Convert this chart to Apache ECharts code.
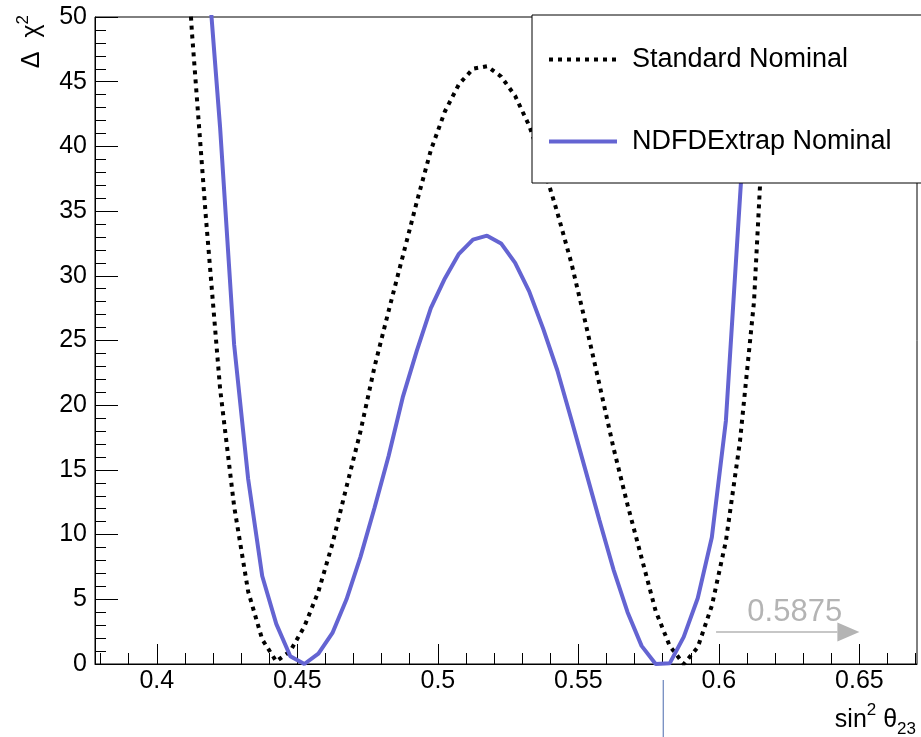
<!DOCTYPE html>
<html><head><meta charset="utf-8">
<script src="https://cdn.jsdelivr.net/npm/echarts@6/dist/echarts.min.js"></script>
<style>html,body{margin:0;padding:0;background:#fff}#c{width:921px;height:737px}</style>
</head><body><div id="c"></div>
<script>
// ---- data (scan points) ----
const seriesNames = ['Standard Nominal', 'NDFDExtrap Nominal'];
const stdX = [0.4075,0.4125,0.4175,0.4225,0.4275,0.4325,0.4375,0.4425,0.4475,0.4525,0.4575,0.4625,0.4675,0.4725,0.4775,0.4825,0.4875,0.4925,0.4975,0.5025,0.5075,0.5125,0.5175,0.5225,0.5275,0.5325,0.5375,0.5425,0.5475,0.5525,0.5575,0.5625,0.5675,0.5725,0.5775,0.5825,0.5875,0.5925,0.5975,0.6025,0.6075,0.6125,0.6175,0.6225];
const stdY = [66,48.8,34.4,21.3,12.2,5.6,1.9,0.2,1.0,2.9,5.6,9.3,13.7,18.0,23.0,27.3,31.5,35.7,39.7,42.7,44.8,46.0,46.2,45.4,43.9,41.6,38.5,34.9,31.0,26.4,21.6,16.7,12.3,8.2,4.1,1.4,0.0,1.3,4.5,9.5,17.2,28.0,49,72];
const ndX = [0.4175,0.4225,0.4275,0.4325,0.4375,0.4425,0.4475,0.4525,0.4575,0.4625,0.4675,0.4725,0.4775,0.4825,0.4875,0.4925,0.4975,0.5025,0.5075,0.5125,0.5175,0.5225,0.5275,0.5325,0.5375,0.5425,0.5475,0.5525,0.5575,0.5625,0.5675,0.5725,0.5775,0.5825,0.5875,0.5925,0.5975,0.6025,0.6075,0.6125];
const ndY = [55.5,41.5,24.7,14.3,6.8,3.1,0.6,0.0,0.8,2.4,5.0,8.3,12.1,16.1,20.6,24.2,27.5,29.8,31.7,32.8,33.1,32.5,31.0,28.8,25.9,22.7,18.9,15.0,11.1,7.3,4.0,1.4,0.0,0.05,2.1,5.1,9.8,18.8,36.0,53];
const xMajorTicks = [0.4,0.45,0.5,0.55,0.6,0.65];
const xMinorTicks = [0.38,0.39,0.41,0.42,0.43,0.44,0.46,0.47,0.48,0.49,0.51,0.52,0.53,0.54,0.56,0.57,0.58,0.59,0.61,0.62,0.63,0.64,0.66,0.67];
const annotText = '0.5875';
const annotArrow = {x0: 0.599, x1: 0.65, y: 2.47, textX: 0.627, textY: 4.0};
const markerX = 0.5802;

const FONT = '"Liberation Sans", Arial, Helvetica, sans-serif';
const chart = echarts.init(document.getElementById('c'), null, {renderer: 'canvas'});
const zip = (xs, ys) => xs.map((x, i) => [x, ys[i]]);

const legendCommon = {
  orient: 'vertical', left: 547, padding: 0, itemWidth: 68, itemHeight: 14,
  selectedMode: false, z: 101,
  itemStyle: {color: 'rgba(0,0,0,0)', borderWidth: 0, opacity: 0},
  textStyle: {fontSize: 27, fontFamily: FONT, color: '#000', padding: [0, 0, 0, 10]}
};

chart.setOption({
  animation: false,
  backgroundColor: '#fff',
  grid: {left: 95, right: 4, top: 17, bottom: 73, show: true, borderColor: '#000', borderWidth: 1, backgroundColor: 'transparent'},
  xAxis: [{
    type: 'value', min: 0.378, max: 0.6705, position: 'bottom',
    axisLine: {show: true, onZero: false, lineStyle: {color: '#000', width: 1}},
    axisTick: {show: true, inside: true, length: 20, customValues: xMajorTicks, lineStyle: {color: '#000'}},
    axisLabel: {customValues: xMajorTicks, fontSize: 25, fontFamily: FONT, color: '#000', margin: 5},
    splitLine: {show: false}
  }, {
    type: 'value', min: 0.378, max: 0.6705, position: 'bottom', offset: 0,
    axisLine: {show: false},
    axisTick: {show: true, inside: true, length: 11, customValues: xMinorTicks, lineStyle: {color: '#000'}},
    axisLabel: {show: false},
    splitLine: {show: false}
  }],
  yAxis: {
    type: 'value', min: 0, max: 50, interval: 5,
    axisLine: {show: true, onZero: false, lineStyle: {color: '#000', width: 1}},
    axisTick: {show: true, inside: true, length: 23, lineStyle: {color: '#000'}},
    minorTick: {show: true, splitNumber: 5, length: 11, lineStyle: {color: '#000'}},
    axisLabel: {fontSize: 25, fontFamily: FONT, color: '#000', margin: 8},
    splitLine: {show: false}
  },
  legend: [
    Object.assign({}, legendCommon, {top: 46, data: [seriesNames[0]], lineStyle: {width: 4, type: [4, 5], color: '#000'}}),
    Object.assign({}, legendCommon, {top: 128, data: [seriesNames[1]], lineStyle: {width: 4, color: '#6464d2'}})
  ],
  series: [{
    name: seriesNames[0], type: 'line', data: zip(stdX, stdY), symbol: 'none', clip: true,
    lineStyle: {color: '#000', width: 4, type: [4, 5], cap: 'butt'}, itemStyle: {color: '#000'}, z: 3
  }, {
    name: seriesNames[1], type: 'line', data: zip(ndX, ndY), symbol: 'none', clip: true,
    lineStyle: {color: '#6464d2', width: 4}, itemStyle: {color: '#6464d2'}, z: 4
  }]
});

const px = (x, y) => chart.convertToPixel({xAxisIndex: 0, yAxisIndex: 0}, [x, y]);
const a0 = px(annotArrow.x0, annotArrow.y);
const a1 = px(annotArrow.x1, annotArrow.y);
const at = px(annotArrow.textX, annotArrow.textY);
const m0 = px(markerX, 0);
const headLen = 22, headHalf = 9.5;

chart.setOption({
  graphic: [
    {type: 'rect', z: 100, shape: {x: 532, y: 15, width: 420, height: 168}, style: {fill: '#fff', stroke: '#000', lineWidth: 1}},
    {type: 'line', z: 50, shape: {x1: a0[0], y1: a0[1], x2: a1[0] - headLen, y2: a1[1]}, style: {stroke: '#b4b4b4', lineWidth: 1.5}},
    {type: 'polygon', z: 50, shape: {points: [[a1[0], a1[1]], [a1[0] - headLen, a1[1] - headHalf], [a1[0] - headLen, a1[1] + headHalf]]}, style: {fill: '#b4b4b4'}},
    {type: 'text', z: 50, x: at[0], y: at[1], style: {text: annotText, fontSize: 31, fontFamily: FONT, fill: '#b4b4b4', align: 'center', verticalAlign: 'middle'}},
    {type: 'line', z: 50, shape: {x1: m0[0], y1: m0[1] + 16, x2: m0[0], y2: 740}, style: {stroke: '#4a6aae', lineWidth: 1}},
    {type: 'text', z: 50, x: 32, y: 15, rotation: Math.PI / 2,
      style: {text: '{m|Δ  χ}{sup|2}', align: 'right', verticalAlign: 'middle', fontFamily: FONT, fill: '#000',
        rich: {m: {fontSize: 25, lineHeight: 34, fontFamily: FONT, verticalAlign: 'middle'}, sup: {fontSize: 17, fontFamily: FONT, verticalAlign: 'top', lineHeight: 17}}}},
    {type: 'text', z: 50, x: 916, y: 720,
      style: {text: '{m|sin}{sup|2}{m| θ}{sub|23}', align: 'right', verticalAlign: 'middle', fontFamily: FONT, fill: '#000',
        rich: {m: {fontSize: 25, lineHeight: 36, fontFamily: FONT, verticalAlign: 'middle'}, sup: {fontSize: 17, fontFamily: FONT, verticalAlign: 'top', lineHeight: 17}, sub: {fontSize: 17, fontFamily: FONT, verticalAlign: 'bottom', lineHeight: 17}}}}
  ]
});
</script></body></html>
